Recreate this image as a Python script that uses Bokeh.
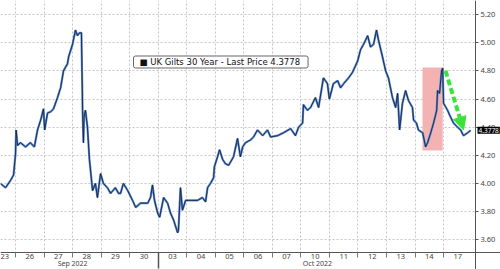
from bokeh.plotting import figure
from bokeh.models import (FixedTicker, BoxAnnotation, Arrow, NormalHead, Grid, LinearAxis,
                          Label, Range1d, PrintfTickFormatter)
from bokeh.embed import file_html
from bokeh.resources import INLINE

# ---------------- data ----------------
day_labels = ["23", "26", "27", "28", "29", "30", "03", "04", "05", "06",
              "07", "10", "11", "12", "13", "14", "17"]
month_labels = ["Sep 2022", "Oct 2022"]
month_label_pos = [2.5, 11.08]
month_break = 5.5

y_ticks = [3.6, 3.8, 4.0, 4.2, 4.4, 4.6, 4.8, 5.0, 5.2]

# position in trading sessions (session i centred on i), UK 30y gilt yield %
session_pos = [-0.03, 0.15, 0.32, 0.43, 0.50, 0.52, 0.57, 0.67, 0.85, 1.02, 1.16, 1.27,
               1.38, 1.48, 1.52, 1.62, 1.73, 1.83, 1.97, 2.08, 2.18, 2.32, 2.36, 2.50,
               2.60, 2.67, 2.74, 2.81, 2.85, 2.88, 2.90, 2.95, 3.02, 3.09, 3.20, 3.30,
               3.37, 3.48, 3.58, 3.72, 3.83, 4.00, 4.11, 4.18, 4.28, 4.43, 4.60, 4.71,
               4.88, 5.13, 5.23, 5.30, 5.37, 5.48, 5.55, 5.69, 5.83, 5.93, 6.04, 6.18,
               6.21, 6.28, 6.35, 6.46, 6.63, 6.88, 7.05, 7.16, 7.23, 7.33, 7.44, 7.47,
               7.58, 7.65, 7.76, 7.86, 7.97, 8.14, 8.28, 8.38, 8.46, 8.56, 8.74, 8.84,
               8.98, 9.16, 9.33, 9.44, 9.68, 9.89, 10.14, 10.31, 10.42, 10.56, 10.59,
               10.73, 10.84, 11.01, 11.12, 11.29, 11.43, 11.50, 11.64, 11.79, 11.89,
               12.00, 12.17, 12.31, 12.49, 12.59, 12.70, 12.84, 12.94, 13.05, 13.15,
               13.22, 13.36, 13.47, 13.57, 13.71, 13.82, 13.89, 13.96, 14.06, 14.17,
               14.27, 14.41, 14.45, 14.55, 14.62, 14.77, 14.87, 14.94, 15.05, 15.15,
               15.26, 15.29, 15.36, 15.43, 15.47, 15.50, 15.64, 15.75, 15.85, 15.99,
               16.10, 16.20, 16.34, 16.45]
yield_pct = [4.00, 3.97, 4.02, 4.06, 4.21, 4.38, 4.27, 4.29, 4.26, 4.29, 4.26, 4.38,
             4.45, 4.53, 4.38, 4.50, 4.51, 4.53, 4.61, 4.68, 4.80, 4.85, 4.90, 4.99,
             5.09, 5.05, 5.07, 5.07, 4.52, 4.29, 4.47, 4.52, 4.40, 4.17, 3.95, 4.00,
             3.90, 4.07, 4.00, 3.97, 3.93, 3.97, 3.93, 3.93, 4.00, 3.95, 3.88, 3.83,
             3.86, 3.86, 3.90, 3.99, 3.88, 3.79, 3.76, 3.90, 3.86, 3.79, 3.74, 3.65,
             3.67, 3.97, 3.81, 3.88, 3.88, 3.88, 3.90, 3.87, 3.97, 4.00, 4.04, 4.12,
             4.19, 4.24, 4.17, 4.14, 4.13, 4.19, 4.32, 4.19, 4.26, 4.29, 4.31, 4.33,
             4.38, 4.34, 4.38, 4.33, 4.34, 4.36, 4.39, 4.34, 4.40, 4.43, 4.56,
             4.52, 4.54, 4.61, 4.54, 4.75, 4.71, 4.60, 4.71, 4.73, 4.68,
             4.71, 4.75, 4.79, 4.87, 4.95, 4.99, 5.05, 4.97, 4.99, 5.09,
             5.02, 4.90, 4.80, 4.75, 4.61, 4.54, 4.64, 4.38, 4.57, 4.66,
             4.59, 4.54, 4.45, 4.43, 4.38, 4.36, 4.26, 4.29, 4.36, 4.43,
             4.52, 4.66, 4.64, 4.80, 4.82, 4.57, 4.52, 4.47, 4.43, 4.40,
             4.38, 4.34, 4.36, 4.3778]
last_price = 4.3778
series_name = "UK Gilts 30 Year - Last Price 4.3778"

# highlight box and arrow (data coords)
box_left, box_right, box_bottom, box_top = 14.76, 15.47, 4.235, 4.824
arrow_start = (15.57, 4.80)
arrow_end = (16.20, 4.38)

FONT = "Noto Sans"
# visible ranges (whole canvas) and where the axes sit inside them
X0, X1 = -0.027, 17.496
Y0, Y1 = 3.389, 5.30
X_AXIS = 16.62   # y-axis position (right edge of plotting area)
Y_AXIS = 3.51    # x-axis position (bottom edge of plotting area)

p = figure(width=500, height=269, output_backend="svg", toolbar_location=None,
           x_range=Range1d(X0, X1), y_range=Range1d(Y0, Y1),
           x_axis_location=None, y_axis_location=None,
           min_border_left=0, min_border_top=0, min_border_right=0, min_border_bottom=0)
p.outline_line_color = None
p.background_fill_color = "white"
p.border_fill_color = "white"
p.center = []

centers = list(range(len(day_labels)))
boundaries = [c + 0.5 for c in centers[:-1]]

# grids
p.add_layout(Grid(dimension=0, ticker=FixedTicker(ticks=boundaries),
                  grid_line_color="#c4c4c4", grid_line_dash="2 2"))
p.add_layout(Grid(dimension=1, ticker=FixedTicker(ticks=y_ticks),
                  grid_line_color="#c4c4c4", grid_line_dash="2 2"))
# blank the axis margins so grid lines stop at the axes
p.add_layout(BoxAnnotation(left=X_AXIS, fill_color="white", fill_alpha=1,
                           line_color=None, level="underlay"))
p.add_layout(BoxAnnotation(top=Y_AXIS, fill_color="white", fill_alpha=1,
                           line_color=None, level="underlay"))

# highlight rectangle under the line
p.add_layout(BoxAnnotation(left=box_left, right=box_right, bottom=box_bottom, top=box_top,
                           fill_color="#f4b3b3", fill_alpha=1.0, line_color=None,
                           level="underlay"))

p.line(session_pos, yield_pct, line_color="#5b8bd4", line_width=2.2)
p.line(session_pos, yield_pct, line_color="#15243f", line_width=0.9)

# green dashed arrow
p.add_layout(Arrow(x_start=arrow_start[0], y_start=arrow_start[1],
                   x_end=arrow_end[0], y_end=arrow_end[1],
                   line_color="#3be23b", line_width=4, line_dash="6 3",
                   end=NormalHead(size=13, fill_color="#3be23b", line_color="#3be23b")))

# x axis: day labels
xa = LinearAxis(fixed_location=Y_AXIS,
                ticker=FixedTicker(ticks=centers, minor_ticks=boundaries),
                major_label_overrides={c: lab for c, lab in zip(centers, day_labels)},
                axis_line_color="#555555", major_tick_line_color=None,
                minor_tick_line_color="#777777", minor_tick_in=0, minor_tick_out=5,
                major_label_standoff=-4, major_label_text_font=FONT,
                major_label_text_font_size="7.5px", major_label_text_color="#444444")
p.add_layout(xa, "below")

# month axis
ma = LinearAxis(fixed_location=Y_AXIS,
                ticker=FixedTicker(ticks=month_label_pos, minor_ticks=[month_break]),
                major_label_overrides={pos: lab for pos, lab in zip(month_label_pos, month_labels)},
                axis_line_color=None, major_tick_line_color=None,
                minor_tick_line_color="#555555", minor_tick_line_width=1.5,
                minor_tick_in=0, minor_tick_out=16,
                major_label_standoff=-9, major_label_text_font=FONT,
                major_label_text_font_size="7px", major_label_text_color="#444444")
p.add_layout(ma, "below")

# y axis on the right
ya = LinearAxis(fixed_location=X_AXIS, ticker=FixedTicker(ticks=y_ticks),
                formatter=PrintfTickFormatter(format="%.2f"),
                axis_line_color="#555555", major_tick_line_color="#555555",
                major_tick_in=0, major_tick_out=3, minor_tick_line_color=None,
                major_label_standoff=2, major_label_text_font=FONT,
                major_label_text_font_size="7.5px", major_label_text_color="#444444")
p.add_layout(ya, "right")

# last price tag
p.add_layout(Label(x=X_AXIS, y=last_price, x_offset=2, text=f"{last_price:.4f}",
                   text_font=FONT, text_font_size="6.5px", text_color="white",
                   text_align="left", text_baseline="middle",
                   background_fill_color="black", padding=1))

# legend box
p.add_layout(Label(x=133, y=269 - 61.5, x_units="screen", y_units="screen",
                   text="\u25a0 " + series_name,
                   text_font="DejaVu Sans", text_font_size="8.5px", text_color="#111111",
                   text_align="left", text_baseline="middle",
                   background_fill_color="white", border_line_color="#666666",
                   border_line_width=1, border_radius=2,
                   padding={"left": 6, "right": 8, "top": 1, "bottom": 1}))

open("out.html", "w").write(file_html(p, INLINE))
